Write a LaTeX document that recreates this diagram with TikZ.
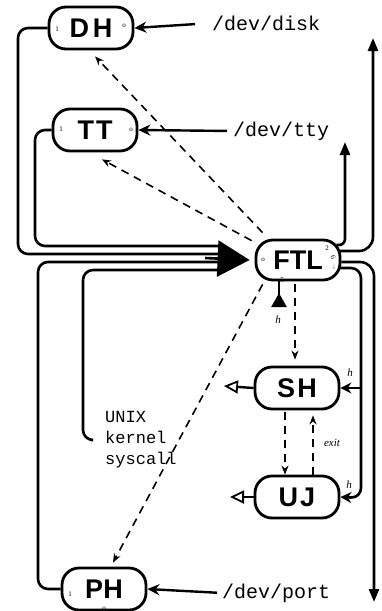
\documentclass[tikz,border=0pt]{standalone}
\usepackage{fontspec}
\setmainfont{Liberation Serif}
\newfontfamily\boxfont{Liberation Sans}
\newfontfamily\ttyfont{Liberation Mono}
\usetikzlibrary{arrows.meta}
\begin{document}
\begin{tikzpicture}[x=1pt,y=-1pt,
  proc/.style={draw, line width=2.8pt, rounded corners=17pt, minimum width=84pt, minimum height=42pt, inner sep=0pt, font=\boxfont\bfseries\fontsize{27}{27}\selectfont},
  wire/.style={line width=2.6pt, rounded corners=10pt},
  dev/.style={font=\ttyfont\fontsize{20}{20}\selectfont, anchor=west, inner sep=0pt},
  feed/.style={line width=2.4pt, -{Stealth[length=12pt,width=11pt]}},
  dsh/.style={line width=1.6pt, dash pattern=on 8pt off 6pt, -{Stealth[length=9pt,width=7pt]}},
  tri/.style={-{Triangle[length=13pt,width=10pt]}},
  opentri/.style={line width=2.4pt, -{Triangle[open,length=14pt,width=13pt,line width=1.8pt]}},
  note/.style={font=\fontsize{7}{7}\selectfont, inner sep=0pt},
  hand/.style={font=\itshape\fontsize{11}{11}\selectfont, inner sep=0pt},
]
\useasboundingbox (0,0) rectangle (382,611);

% process nodes
\node[proc] (dh)  at (91,28)  {D\hspace{4pt}H};
\node[proc] (tt)  at (95,130) {T\hspace{2pt}T};
\node[proc, minimum height=40pt] (ftl) at (298,260) {FTL};
\node[proc] (sh)  at (297,388) {S\hspace{2pt}H};
\node[proc] (uj)  at (297,497) {U\hspace{2pt}J};
\node[proc] (ph)  at (104,589) {PH};

% small port marks
\node[note] at (57,29) {1};
\node[note] at (124,26) {o};
\node[note] at (61,129) {1};
\node[note] at (131,130) {o};
\node[note] at (263,260) {o};
\node[note] at (327,248) {2};
\node[note, rotate=-70] at (333,257) {6};
\node[note] at (334,267) {;};
\node[note] at (282,280) {5};
\node[note] at (70,594) {1};
\node[note] at (104,609) {o};

% device labels
\node[dev] (disk) at (212,23)  {/dev/disk};
\node[dev] (tty)  at (233,131) {/dev/tty};
\node[dev] (port) at (222,593) {/dev/port};
\draw[feed, shorten <=17pt] (disk.west) -- (dh.east);
\draw[feed, shorten <=6pt]  (tty.west)  -- (tt.east);
\draw[feed, shorten <=5pt]  (port.west) -- (ph.east);

% kernel syscall label
\node[font=\ttyfont\fontsize{17}{21}\selectfont, align=left, anchor=west, inner sep=0pt] (kern) at (105,440) {UNIX\\kernel\\syscall};
\coordinate (kend) at (91,440);

% converging lines into FTL
\coordinate (merge) at (205,258);
\draw[wire] (dh.west) -- (18,28) -- (18,254) -- (222,254);
\draw[wire] (tt.west) -- (35,130) -- (35,246) -- (222,246);
\draw[wire] (ph.west) -- (38,589) -- (38,262) -- (222,262);
\draw[wire] (kend) -- (83,440) -- (83,270) -- (222,270);
\draw[line width=2.6pt, -{Triangle[length=32pt,width=36pt]}] (merge) -- ([xshift=-5pt]ftl.west);

% right-hand outputs
\draw[wire, rounded corners=6pt, tri] ([xshift=-5pt,yshift=15pt]ftl.east) -| (345,142);
\draw[wire, rounded corners=14pt, tri] ([xshift=-2pt,yshift=9pt]ftl.east) -| (373,38);
\draw[wire, rounded corners=14pt, tri] ([yshift=-2pt]ftl.east) -| (374,602);
\coordinate (hsh) at (361,388);
\draw[wire, -{Stealth[length=11pt,width=11pt]}] ([xshift=-2pt,yshift=-8pt]ftl.east) -| (361,498) -- (uj.east);
\draw[line width=2.6pt, -{Stealth[length=11pt,width=11pt]}] (hsh) -- (sh.east);
\node[hand] at (350,373) {h};
\node[hand] at (349,485) {h};

% h input under FTL
\coordinate (hin) at (279,307);
\draw[line width=2.4pt, -{Triangle[reversed,length=14pt,width=15pt]}] ([xshift=-19pt]ftl.south) -- (hin);
\node[hand] at (278,320) {h};

% open triangle outputs
\coordinate (osh) at (224,386);
\coordinate (ouj) at (230,497);
\draw[opentri] (sh.west) -- (osh);
\draw[opentri] (uj.west) -- (ouj);

% dashed control arrows
\draw[dsh] ([xshift=8pt,yshift=6pt]ftl.north west) -- ([xshift=4pt,yshift=-6pt]dh.south);
\draw[dsh] ([xshift=-3pt,yshift=-2pt]ftl.north west) -- ([xshift=7pt,yshift=-7pt]tt.south);
\draw[dsh] ([xshift=8pt,yshift=-3pt]ftl.south west) -- ([xshift=9pt,yshift=4pt]ph.north);
\draw[dsh] ([xshift=-3pt,yshift=-3pt]ftl.south) -- ([xshift=-2pt,yshift=6pt]sh.north);
\draw[dsh] ([xshift=-12pt,yshift=-2pt]sh.south) -- ([xshift=-12pt]uj.north);
\draw[dsh] ([xshift=16pt]uj.north) -- ([xshift=16pt,yshift=-5pt]sh.south);
\node[hand] at (332,443) {exit};
\end{tikzpicture}
\end{document}
